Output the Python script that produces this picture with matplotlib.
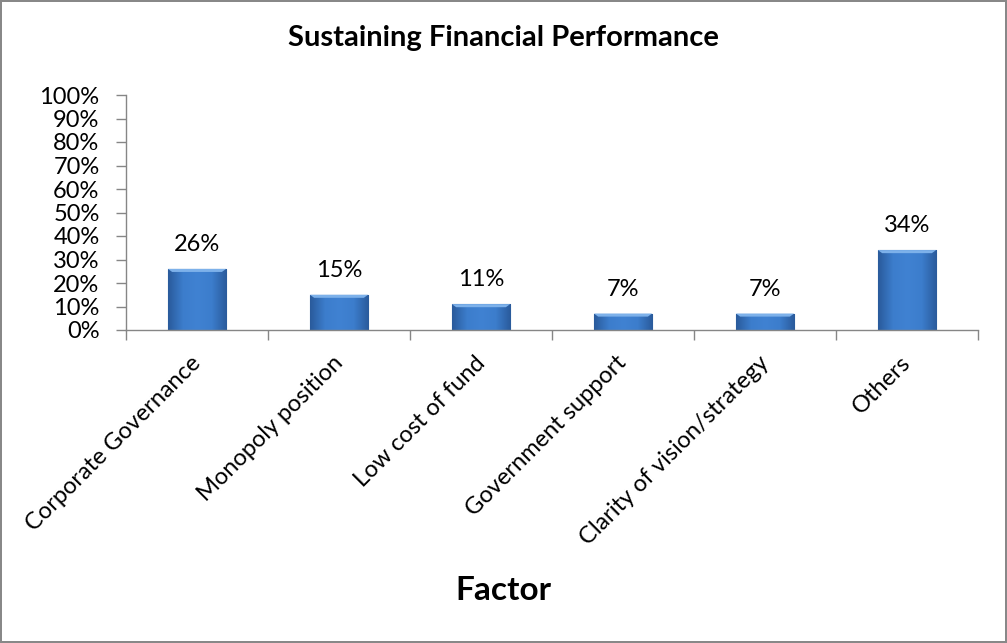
import matplotlib
matplotlib.use("Agg")
import matplotlib.pyplot as plt
import matplotlib.transforms as mtransforms
import numpy as np
from matplotlib.ticker import FixedLocator
from matplotlib.colors import LinearSegmentedColormap

categories = ["Corporate Governance", "Monopoly position", "Low cost of fund",
              "Government support", "Clarity of vision/strategy", "Others"]
values = [26, 15, 11, 7, 7, 34]
labels = ["26%", "15%", "11%", "7%", "7%", "34%"]
yticks = list(range(0, 101, 10))
ytick_labels = [f"{v}%" for v in yticks]

plt.rcParams['font.family'] = ['Lato', 'DejaVu Sans']

fig = plt.figure(figsize=(10.07, 6.43), dpi=100)
fig.patch.set_facecolor('white')
fig.patch.set_edgecolor('#888888')
fig.patch.set_linewidth(1.5)

ax = fig.add_axes([126/1007, 1-330/643, (978-126)/1007, (330-95)/643])
x = np.arange(len(categories))
width = 0.41
bars = ax.bar(x, values, width=width, color='#3b78c2', edgecolor='#2d5f9e', linewidth=0.8, zorder=3)

# horizontal gradient (darker edges, lighter middle) clipped to each bar
cmap = LinearSegmentedColormap.from_list('barg', ['#2a5b9c', '#3c7dcc', '#4082d2', '#3c7dcc', '#2a5b9c'])
grad = np.linspace(0, 1, 64).reshape(1, -1)
for b in bars:
    x0 = b.get_x(); w = b.get_width(); h = b.get_height()
    im = ax.imshow(grad, extent=[x0, x0 + w, 0, h], aspect='auto', cmap=cmap, zorder=3.5, origin='lower')
    im.set_clip_path(b)
    # top bevel
    bev = min(1.3, h * 0.25)
    ax.fill([x0, x0 + w, x0 + w - 0.03, x0 + 0.03], [h, h, h - bev, h - bev],
            color='#7db1ea', linewidth=0, zorder=4)

for xi, v, lab in zip(x, values, labels):
    ax.annotate(lab, (xi, v), xytext=(0, 10), textcoords='offset points',
                ha='center', va='bottom', fontsize=17, color='black')

ax.set_xlim(-0.5, len(categories) - 0.5)
ax.set_ylim(0, 100)
ax.set_yticks(yticks)
ax.set_yticklabels(ytick_labels, fontsize=17)
ax.set_xticks(x)
ax.set_xticklabels(categories, rotation=45, ha='right', rotation_mode='anchor', fontsize=17)
ax.tick_params(axis='x', length=0, pad=16)
ax.xaxis.set_minor_locator(FixedLocator(np.arange(-0.5, len(categories), 1.0)))
ax.tick_params(axis='x', which='minor', length=7, color='#868686', width=1)
ax.tick_params(axis='y', length=7, color='#868686', width=1, pad=12)

offset = mtransforms.ScaledTranslation(-7/100, 0, fig.dpi_scale_trans)
for lbl in ax.get_xticklabels():
    lbl.set_transform(lbl.get_transform() + offset)

for s in ['top', 'right']:
    ax.spines[s].set_visible(False)
for s in ['left', 'bottom']:
    ax.spines[s].set_color('#868686')
    ax.spines[s].set_linewidth(1)
    ax.spines[s].set_zorder(5)

fig.text(0.5, 1-38/643, "Sustaining Financial Performance", ha='center', va='center',
         fontsize=21, fontweight='bold')
fig.text(0.5, 1-590/643, "Factor", ha='center', va='center', fontsize=24, fontweight='bold')

fig.savefig("out.png", dpi=100, facecolor=fig.get_facecolor(), edgecolor=fig.get_edgecolor())
